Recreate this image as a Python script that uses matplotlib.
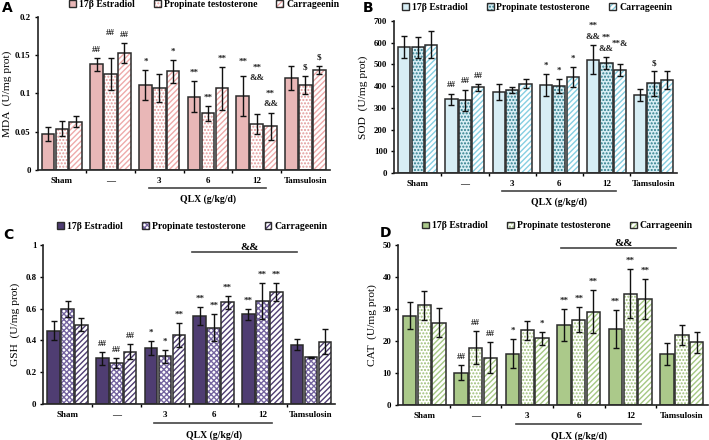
import numpy as np
import matplotlib.pyplot as plt
from matplotlib.ticker import StrMethodFormatter, FixedLocator
from matplotlib.transforms import blended_transform_factory

plt.rcParams['font.family'] = ['Liberation Serif', 'DejaVu Serif']
plt.rcParams['font.weight'] = 'bold'
plt.rcParams['hatch.linewidth'] = 1.0

groups = ['Sham', '\u2014', '3', '6', '12', 'Tamsulosin']
series = ['17\u03b2 Estradiol', 'Propinate testosterone', 'Carrageenin']

# MDA (U/mg prot), rows = series
mda_mean = [[0.047, 0.138, 0.111, 0.096, 0.097, 0.120],
            [0.054, 0.126, 0.107, 0.074, 0.060, 0.111],
            [0.063, 0.153, 0.129, 0.107, 0.057, 0.131]]
mda_err = [[0.0095, 0.008, 0.020, 0.020, 0.026, 0.016],
           [0.0095, 0.021, 0.018, 0.010, 0.0126, 0.012],
           [0.007, 0.013, 0.015, 0.028, 0.018, 0.005]]
mda_sig = [['', '##', '*', '**', '**', ''],
           ['', '##', '', '**', '**\n&&', '$'],
           ['', '##', '*', '**', '**\n&&', '$']]

# SOD (U/mg prot)
sod_mean = [[580, 339, 373, 404, 522, 361],
            [580, 335, 381, 401, 508, 413],
            [591, 395, 412, 444, 476, 427]]
sod_err = [[50, 27, 37, 51, 68, 28],
           [48, 49, 14, 31, 27, 56],
           [63, 15, 21, 46, 28, 42]]
sod_sig = [['', '##', '', '*', '**\n&&', ''],
           ['', '##', '', '*', '**\n&&', '$'],
           ['', '##', '', '*', '**&', '']]

# GSH (U/mg prot)
gsh_mean = [[0.461, 0.287, 0.354, 0.553, 0.564, 0.373],
            [0.600, 0.256, 0.300, 0.480, 0.650, 0.293],
            [0.500, 0.329, 0.434, 0.639, 0.706, 0.392]]
gsh_err = [[0.060, 0.040, 0.044, 0.055, 0.035, 0.036],
           [0.050, 0.030, 0.040, 0.085, 0.113, 0.005],
           [0.040, 0.046, 0.075, 0.042, 0.057, 0.077]]
gsh_sig = [['', '##', '*', '**', '**', ''],
           ['', '##', '*', '**', '**', ''],
           ['', '##', '**', '**', '**', '']]

# CAT (U/mg prot)
cat_mean = [[27.9, 10.1, 16.0, 25.0, 23.8, 15.9],
            [31.2, 17.9, 23.3, 26.7, 34.8, 21.9],
            [25.7, 14.8, 20.8, 29.1, 33.2, 19.6]]
cat_err = [[4.2, 2.4, 4.6, 5.0, 5.9, 3.5],
           [4.5, 5.2, 2.9, 4.0, 7.7, 3.1],
           [4.5, 4.8, 2.1, 6.7, 6.3, 3.3]]
cat_sig = [['', '##', '*', '**', '**', ''],
           ['', '##', '', '**', '**', ''],
           ['', '##', '*', '**', '**', '']]

EDGE = '#2b2b2b'

# extra lift (points) for a few significance marks: (series, group) -> pt
mda_lift = {(1, 1): 12, (1, 4): 20, (0, 4): 4}
sod_lift = {(2, 4): 8}


def draw_panel(ax, mean, err, sig, ylabel, ylim, yticks, faces, hatches, hcolors,
               leg_x, leg_y, ylab_x, amp_bar=None, lift=None):
    lift = lift or {}
    x = np.arange(len(groups))
    width = 0.26
    handles = []
    for i in range(3):
        pos = x + (i - 1) * 0.285
        ax.bar(pos, mean[i], width, color=faces[i], hatch=hatches[i],
               edgecolor=hcolors[i], linewidth=0, zorder=2)
        ax.bar(pos, mean[i], width, color='none', edgecolor=EDGE, linewidth=1.1, zorder=3)
        ax.errorbar(pos, mean[i], yerr=err[i], fmt='none', ecolor='#111111',
                    elinewidth=1.0, capsize=2.5, capthick=1.0, zorder=4)
        for j, (p, m, e, s) in enumerate(zip(pos, mean[i], err[i], sig[i])):
            if s:
                ax.annotate(s, (p, m + e), xytext=(0, 3 + lift.get((i, j), 0)),
                            textcoords='offset points', ha='center', va='bottom',
                            fontsize=6.5, linespacing=1.5, color='#222222')
        hp = plt.Rectangle((0, 0), 1, 1, facecolor=faces[i], hatch=hatches[i],
                           edgecolor=hcolors[i], linewidth=0)
        ep = plt.Rectangle((0, 0), 1, 1, facecolor='none', edgecolor=EDGE, linewidth=1.0)
        handles.append((hp, ep))

    ax.set_xlim(-0.5, len(groups) - 0.5)
    ax.set_ylim(*ylim)
    ax.set_yticks(yticks)
    ax.yaxis.set_major_formatter(StrMethodFormatter('{x:g}'))
    ax.set_xticks(x)
    ax.set_xticklabels(groups, fontsize=6.5)
    ax.xaxis.set_minor_locator(FixedLocator(x[:-1] + 0.5))
    ax.tick_params(axis='x', which='major', length=0, pad=5)
    ax.tick_params(axis='x', which='minor', length=2, width=1, direction='out')
    ax.tick_params(axis='y', labelsize=6.3, length=2.5, width=1, direction='out', pad=2.5)
    for side in ('top', 'right'):
        ax.spines[side].set_visible(False)
    for side in ('left', 'bottom'):
        ax.spines[side].set_linewidth(1.2)
        ax.spines[side].set_color('#222222')
    ax.set_ylabel(ylabel, fontsize=8.2)
    ax.yaxis.set_label_coords(ylab_x, 0.5)

    tr = blended_transform_factory(ax.transData, ax.transAxes)
    ax.plot([1.78, 4.2], [-0.12, -0.12], color='#444444', lw=1.2,
            transform=tr, clip_on=False)
    ax.text(3, -0.195, 'QLX (g/kg/d)', transform=tr, ha='center', va='center',
            fontsize=7)

    if amp_bar is not None:
        x0, x1, yv = amp_bar
        ax.plot([x0, x1], [yv, yv], color='#444444', lw=1.2, clip_on=False)
        ax.text((x0 + x1) / 2 + 0.1, yv, '&&', ha='center', va='bottom', fontsize=8)

    ax.legend(handles, series, loc='center', bbox_to_anchor=(leg_x, leg_y), ncol=3,
              frameon=False, fontsize=7, handlelength=0.7, handleheight=0.7,
              handletextpad=0.3, columnspacing=2.0, borderaxespad=0)


fig = plt.figure(figsize=(7.09, 4.40), dpi=100)

axA = fig.add_axes([0.053, 0.614, 0.412, 0.347])
draw_panel(axA, mda_mean, mda_err, mda_sig, 'MDA  (U/mg prot)', (0, 0.2),
           [0, 0.05, 0.1, 0.15, 0.2],
           ['#e9b7b7', 'white', 'white'], ['', '.....', '//////'],
           ['#e9b7b7', '#e29a9a', '#eeaaaa'], 0.57, 1.085, -0.088, lift=mda_lift)

axB = fig.add_axes([0.556, 0.607, 0.399, 0.345])
draw_panel(axB, sod_mean, sod_err, sod_sig, 'SOD  (U/mg prot)', (0, 700),
           list(range(0, 701, 100)),
           ['#d7eef5', '#d7eef5', 'white'], ['', '.....', '//////'],
           ['#d7eef5', '#2e7d8c', '#86cfe2'], 0.505, 1.09, -0.092, lift=sod_lift)

axC = fig.add_axes([0.061, 0.082, 0.412, 0.361])
draw_panel(axC, gsh_mean, gsh_err, gsh_sig, 'GSH  (U/mg prot)', (0, 1),
           [0, 0.2, 0.4, 0.6, 0.8, 1],
           ['#4f3d72', 'white', 'white'], ['', 'xxxxxx', '//////'],
           ['#4f3d72', '#7565a0', '#4f3d72'], 0.51, 1.12, -0.078,
           amp_bar=(2.56, 4.71, 0.955))

axD = fig.add_axes([0.562, 0.080, 0.436, 0.363])
draw_panel(axD, cat_mean, cat_err, cat_sig, 'CAT  (U/mg prot)', (0, 50),
           [0, 10, 20, 30, 40, 50],
           ['#abc98a', 'white', 'white'], ['', '.....', '//////'],
           ['#abc98a', '#9dbf78', '#a5c883'], 0.514, 1.12, -0.07,
           amp_bar=(2.65, 4.88, 49))

# panel letters
for letter, px, py in [('A', 7, 8), ('B', 368, 8), ('C', 8, 235), ('D', 385, 233)]:
    fig.text(px / 709, 1 - py / 440, letter, fontsize=10, fontweight='bold',
             family='DejaVu Sans', ha='center', va='center')

fig.savefig('out.png', dpi=100)
